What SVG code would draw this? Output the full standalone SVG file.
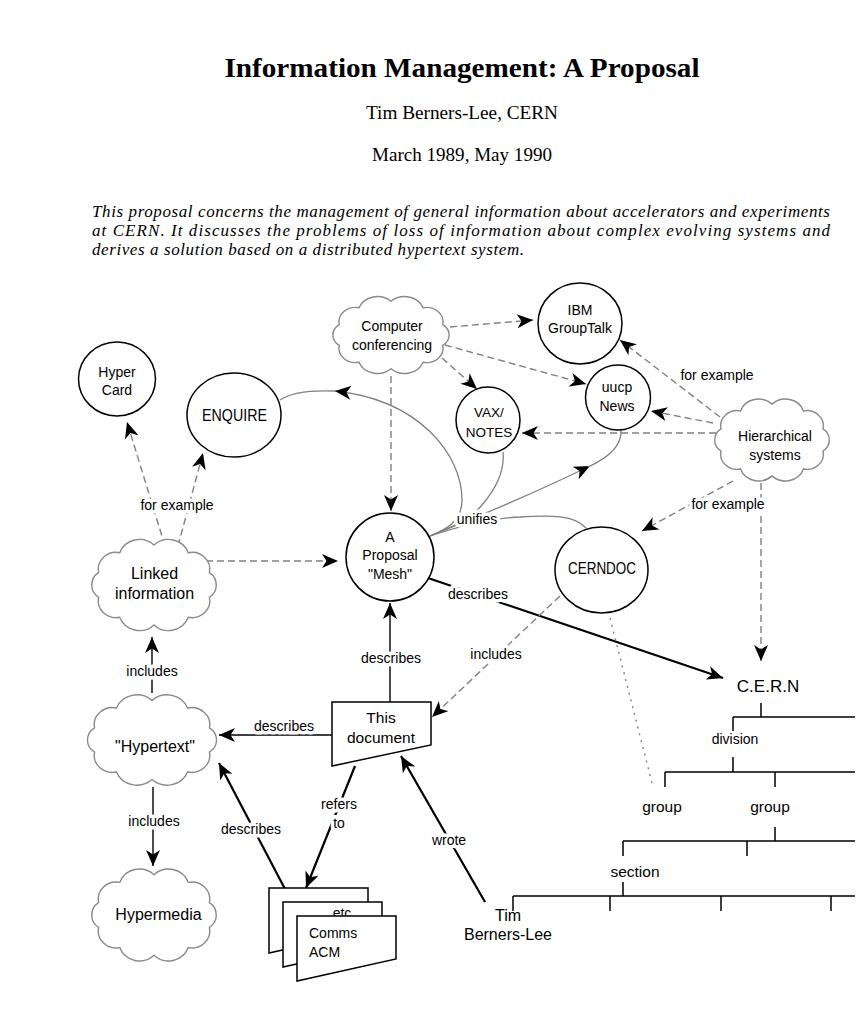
<svg xmlns="http://www.w3.org/2000/svg" xmlns:xlink="http://www.w3.org/1999/xlink" width="865" height="1020" viewBox="0 0 865 1020">
<style>
.bg{fill:#fff}
.n{fill:#fff;stroke:#000;stroke-width:1.5}
.cl{fill:#fff;stroke:#8a8a8a;stroke-width:1.4}
.t{font-family:"Liberation Sans",Arial,sans-serif;font-size:14px;text-anchor:middle;fill:#000}
.big{font-size:16px}
.s13{font-size:13.5px}
.s15{font-size:15.5px}
.s17{font-size:17px}
.st{text-anchor:start}
.lbl{stroke:#fff;stroke-width:7;stroke-linejoin:round;paint-order:stroke}
.dash{stroke:#808080;stroke-width:1.4;stroke-dasharray:7 4;fill:none}
.dot{stroke:#808080;stroke-width:1.4;stroke-dasharray:2 5;fill:none}
.solid{stroke:#000;stroke-width:1.4;fill:none}
.thick{stroke:#000;stroke-width:2.2;fill:none}
.curve{stroke:#808080;stroke-width:1.3;fill:none}
.tree{stroke:#000;stroke-width:1.5;fill:none}
.serif{font-family:"Liberation Serif","Times New Roman",serif;fill:#000;text-anchor:middle}
.it{font-family:"Liberation Serif","Times New Roman",serif;font-style:italic;font-size:17px;fill:#000}
</style>
<defs>
<marker id="ah" markerWidth="17" markerHeight="14" refX="16" refY="7" orient="auto" markerUnits="userSpaceOnUse">
<path d="M0,0 L16,7 L0,14 L4.5,7 Z" fill="#000" stroke="none"/>
</marker>
<path id="cloudp" vector-effect="non-scaling-stroke" d="M49.5,-11.4 A13.7 13.7 0 0 1 49.5,11.4 A15.8 15.8 0 0 1 30.6,29.9 A18.8 18.8 0 0 1 0,37 A18.8 18.8 0 0 1 -30.6,29.9 A15.8 15.8 0 0 1 -49.5,11.4 A13.7 13.7 0 0 1 -49.5,-11.4 A15.8 15.8 0 0 1 -30.6,-29.9 A18.8 18.8 0 0 1 0,-37 A18.8 18.8 0 0 1 30.6,-29.9 A15.8 15.8 0 0 1 49.5,-11.4 Z"/>
</defs>
<rect class="bg" x="0" y="0" width="865" height="1020"/>

<g id="header">
<text class="serif" x="462" y="77" style="font-size:28px;font-weight:bold" textLength="475" lengthAdjust="spacingAndGlyphs">Information Management: A Proposal</text>
<text class="serif" x="462" y="119" style="font-size:19px" textLength="192" lengthAdjust="spacingAndGlyphs">Tim Berners-Lee, CERN</text>
<text class="serif" x="462" y="161" style="font-size:19px" textLength="180" lengthAdjust="spacingAndGlyphs">March 1989, May 1990</text>
<text class="it" x="92" y="217" textLength="738" lengthAdjust="spacing">This proposal concerns the management of general information about accelerators and experiments</text>
<text class="it" x="92" y="236" textLength="738" lengthAdjust="spacing">at CERN. It discusses the problems of loss of information about complex evolving systems and</text>
<text class="it" x="92" y="255" textLength="432" lengthAdjust="spacing">derives a solution based on a distributed hypertext system.</text>
</g>

<g id="connectors">
<path class="dash" d="M165,546 L127,422" marker-end="url(#ah)"/>
<path class="dash" d="M178,546 L203,453" marker-end="url(#ah)"/>
<path class="dash" d="M206,561 L338,561" marker-end="url(#ah)"/>
<path class="dash" d="M391,376 L391,511" marker-end="url(#ah)"/>
<path class="dash" d="M450,327 L533,320" marker-end="url(#ah)"/>
<path class="dash" d="M442,358 L477,389" marker-end="url(#ah)"/>
<path class="dash" d="M445,345 L586,384" marker-end="url(#ah)"/>
<path class="dash" d="M720,417 L620,340" marker-end="url(#ah)"/>
<path class="dash" d="M713,423 L651,411" marker-end="url(#ah)"/>
<path class="dash" d="M716,433 L522,433" marker-end="url(#ah)"/>
<path class="dash" d="M733,481 L642,531" marker-end="url(#ah)"/>
<path class="dash" d="M761,483 L761,661" marker-end="url(#ah)"/>
<path class="curve" d="M430,536 C445,530 462,522 462,500 C462,455 420,400 335,391" marker-end="url(#ah)"/>
<path class="curve" d="M335,391 C310,390 290,393 280,400"/>
<path class="curve" d="M430,536 C450,528 470,520 482,505 C495,490 505,472 503,452"/>
<path class="curve" d="M430,536 C470,520 520,500 590,466" marker-end="url(#ah)"/>
<path class="curve" d="M588,467 C610,457 622,445 621,430"/>
<path class="curve" d="M430,536 C460,526 490,518 520,517 C550,515 575,515 586,528"/>
<path class="thick" d="M428,578 L723,678" marker-end="url(#ah)"/>
<path class="dash" d="M560,596 L432,717" marker-end="url(#ah)"/>
<path class="dot" d="M610,618 L652,783"/>
<path class="solid" d="M390,702 L390,603" marker-end="url(#ah)"/>
<path class="solid" d="M332,735 L219,735" marker-end="url(#ah)"/>
<path class="solid" d="M152,693 L152,637" marker-end="url(#ah)"/>
<path class="solid" d="M153,787 L153,866" marker-end="url(#ah)"/>
<path class="thick" d="M285,889 L219,763" marker-end="url(#ah)"/>
<path class="thick" d="M355,766 L306,888" marker-end="url(#ah)"/>
<path class="thick" d="M485,902 L401,756" marker-end="url(#ah)"/>
</g>

<g id="n-hypercard"><ellipse class="n" cx="117" cy="379" rx="38.5" ry="37"/><text class="t" x="117" y="377">Hyper</text><text class="t" x="117" y="395">Card</text></g>
<g id="n-enquire"><ellipse class="n" cx="234" cy="415" rx="47" ry="42"/><text class="t s17" x="234.5" y="421" textLength="65" lengthAdjust="spacingAndGlyphs">ENQUIRE</text></g>
<g id="n-cc"><use href="#cloudp" class="cl" transform="translate(391 335) scale(1.045 0.91)"/><text class="t" x="392" y="331">Computer</text><text class="t" x="392" y="350">conferencing</text></g>
<g id="n-ibm"><ellipse class="n" cx="580" cy="323.5" rx="42" ry="40.5"/><text class="t" x="580" y="315">IBM</text><text class="t" x="580" y="333">GroupTalk</text></g>
<g id="n-uucp"><ellipse class="n" cx="618" cy="397.5" rx="32.5" ry="32.5"/><text class="t" x="617" y="392">uucp</text><text class="t" x="617" y="411">News</text></g>
<g id="n-vax"><ellipse class="n" cx="488" cy="420" rx="32" ry="33"/><text class="t s13" x="489" y="417">VAX/</text><text class="t s13" x="489" y="437">NOTES</text></g>
<g id="n-hier"><use href="#cloudp" class="cl" transform="translate(772 440) scale(1.03 0.97)"/><text class="t" x="775" y="441">Hierarchical</text><text class="t" x="775" y="460">systems</text></g>
<g id="n-linked"><use href="#cloudp" class="cl" transform="translate(154 585) scale(1.12 1.08)"/><text class="t big" x="154.5" y="579">Linked</text><text class="t big" x="154.5" y="599">information</text></g>
<g id="n-mesh"><circle class="n" cx="390" cy="557" r="44"/><text class="t" x="390" y="542">A</text><text class="t" x="390" y="560">Proposal</text><text class="t" x="390" y="579">"Mesh"</text></g>
<g id="n-cerndoc"><ellipse class="n" cx="601.5" cy="570" rx="46.5" ry="43"/><text class="t s17" x="602" y="574" textLength="68" lengthAdjust="spacingAndGlyphs">CERNDOC</text></g>
<g id="n-hypertext"><use href="#cloudp" class="cl" transform="translate(152 740) scale(1.16 1.07)"/><text class="t big" x="155" y="752">"Hypertext"</text></g>
<g id="n-hypermedia"><use href="#cloudp" class="cl" transform="translate(154 915) scale(1.12 1.09)"/><text class="t big" x="158.5" y="920">Hypermedia</text></g>
<g id="n-thisdoc"><path class="n" d="M332,702 L431,702 L431,745 L332,766 Z"/><text class="t s15" x="381" y="723">This</text><text class="t s15" x="381" y="743">document</text></g>
<g id="n-docs">
<path class="n" d="M269,888 L368,888 L368,931 L269,953 Z"/>
<path class="n" d="M283,902 L382,902 L382,945 L283,967 Z"/>
<text class="t" x="342" y="918">etc</text>
<path class="n" d="M297,916 L396,916 L396,959 L297,981 Z"/>
<text class="t st" x="309" y="938">Comms</text>
<text class="t st" x="309" y="957">ACM</text>
</g>
<g id="n-tim"><text class="t big" x="508" y="921">Tim</text><text class="t big" x="508" y="940">Berners-Lee</text></g>
<g id="n-cern">
<text class="t s17" x="768" y="692">C.E.R.N</text>
<text class="t" x="735" y="744">division</text>
<text class="t s15" x="662" y="812">group</text>
<text class="t s15" x="770" y="812">group</text>
<text class="t s15" x="635" y="877">section</text>
<path class="tree" d="M761,703 V717 M733,717 H855 M733,717 V731 M733,757 V772 M665,772 H855 M665,772 V787 M775,772 V787 M775,827 V841 M623,841 H855 M623,841 V856 M747,841 V856 M623,882 V896 M513,896 H855 M513,896 V911 M610,896 V911 M721,896 V911 M831,896 V911"/>
</g>

<g id="labels">
<text class="t lbl" x="177" y="510">for example</text>
<text class="t lbl" x="717" y="380">for example</text>
<text class="t lbl" x="728" y="509">for example</text>
<text class="t lbl" x="477" y="524">unifies</text>
<text class="t lbl" x="478" y="599">describes</text>
<text class="t lbl" x="496" y="659">includes</text>
<text class="t lbl" x="391" y="663">describes</text>
<text class="t lbl" x="152" y="676">includes</text>
<text class="t lbl" x="284" y="731">describes</text>
<text class="t lbl" x="154" y="826">includes</text>
<text class="t lbl" x="251" y="834">describes</text>
<text class="t lbl" x="339" y="809">refers</text>
<text class="t lbl" x="339" y="828">to</text>
<text class="t lbl" x="449" y="845">wrote</text>
</g>
</svg>
